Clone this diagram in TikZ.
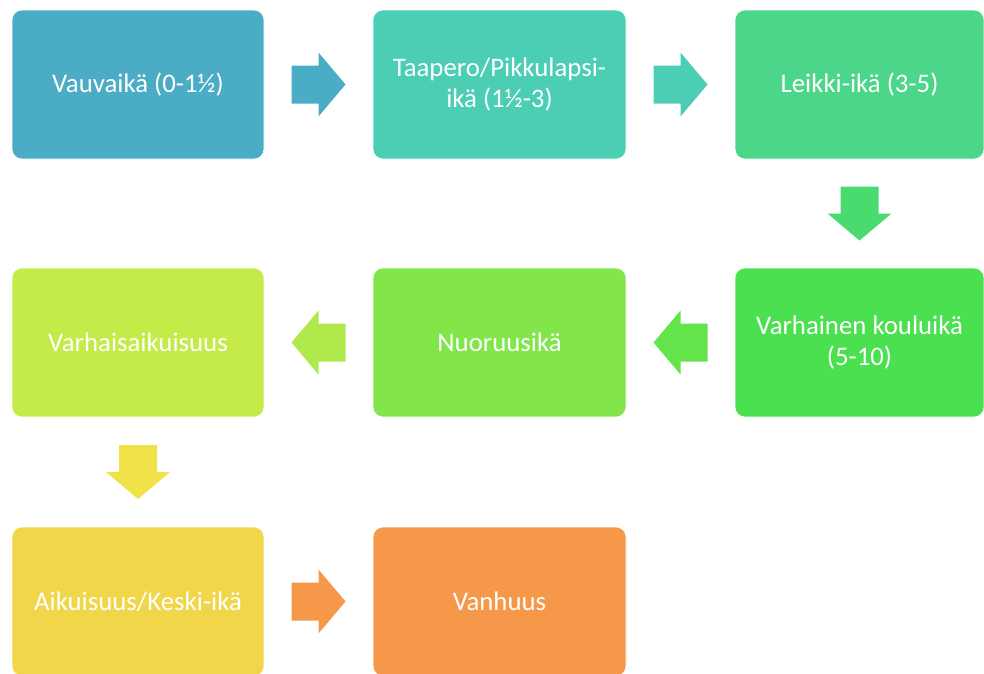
\documentclass[tikz,border=0pt]{standalone}
\usepackage{fontspec}
\setmainfont{Carlito}
\usetikzlibrary{calc}
\definecolor{cA}{HTML}{4BACC6}
\definecolor{cB}{HTML}{4BCEB4}
\definecolor{cC}{HTML}{4BD68A}
\definecolor{cD}{HTML}{4ADB6E}
\definecolor{cE}{HTML}{4BE04F}
\definecolor{cF}{HTML}{64E44B}
\definecolor{cG}{HTML}{82E64B}
\definecolor{cH}{HTML}{AFE94B}
\definecolor{cI}{HTML}{C5EB49}
\definecolor{cJ}{HTML}{F0E248}
\definecolor{cK}{HTML}{F1D649}
\definecolor{cL}{HTML}{F6984A}
\tikzset{
  stagebox/.style={rounded corners=10pt, draw=white, line width=0.6pt,
    minimum height=149pt, inner sep=0pt, text=white, align=center,
    font=\fontsize{26.8pt}{31.5pt}\selectfont},
  blockarrow/.pic={\fill[#1] (-27,-19) -- (0,-19) -- (0,-32) -- (27,0) -- (0,32) -- (0,19) -- (-27,19) -- cycle;}
}
\begin{document}
\begin{tikzpicture}[x=1pt,y=-1pt]
\useasboundingbox (0,0) rectangle (984,673);
% row 1
\node[stagebox, fill=cA, minimum width=252pt] (b1) at (138,84.5) {Vauvaikä (0-1½)};
\node[stagebox, fill=cB, minimum width=253pt] (b2) at (499.5,84.5) {Taapero/Pikkulapsi-\\ikä (1½-3)};
\node[stagebox, fill=cC, minimum width=249pt] (b3) at (859.5,84.5) {Leikki-ikä (3-5)};
% row 2
\node[stagebox, fill=cE, minimum width=249pt] (b4) at (859.5,342.5) {Varhainen kouluikä\\(5-10)};
\node[stagebox, fill=cG, minimum width=253pt] (b5) at (499.5,342.5) {Nuoruusikä};
\node[stagebox, fill=cI, minimum width=252pt] (b6) at (138,342.5) {Varhaisaikuisuus};
% row 3
\node[stagebox, fill=cK, minimum width=252pt] (b7) at (138,601.5) {Aikuisuus/Keski-ikä};
\node[stagebox, fill=cL, minimum width=253pt] (b8) at (499.5,601.5) {Vanhuus};
% arrows
\path ($(b1.east)!0.5!(b2.west)$) pic {blockarrow=cA};
\path ($(b2.east)!0.5!(b3.west)$) pic {blockarrow=cB};
\path ($(b3.south)!0.5!(b4.north)$) pic[rotate=-90] {blockarrow=cD};
\path ($(b4.west)!0.5!(b5.east)$) pic[rotate=180] {blockarrow=cF};
\path ($(b5.west)!0.5!(b6.east)$) pic[rotate=180] {blockarrow=cH};
\path ($(b6.south)!0.5!(b7.north)$) pic[rotate=-90] {blockarrow=cJ};
\path ($(b7.east)!0.5!(b8.west)$) pic {blockarrow=cL};
\end{tikzpicture}
\end{document}
